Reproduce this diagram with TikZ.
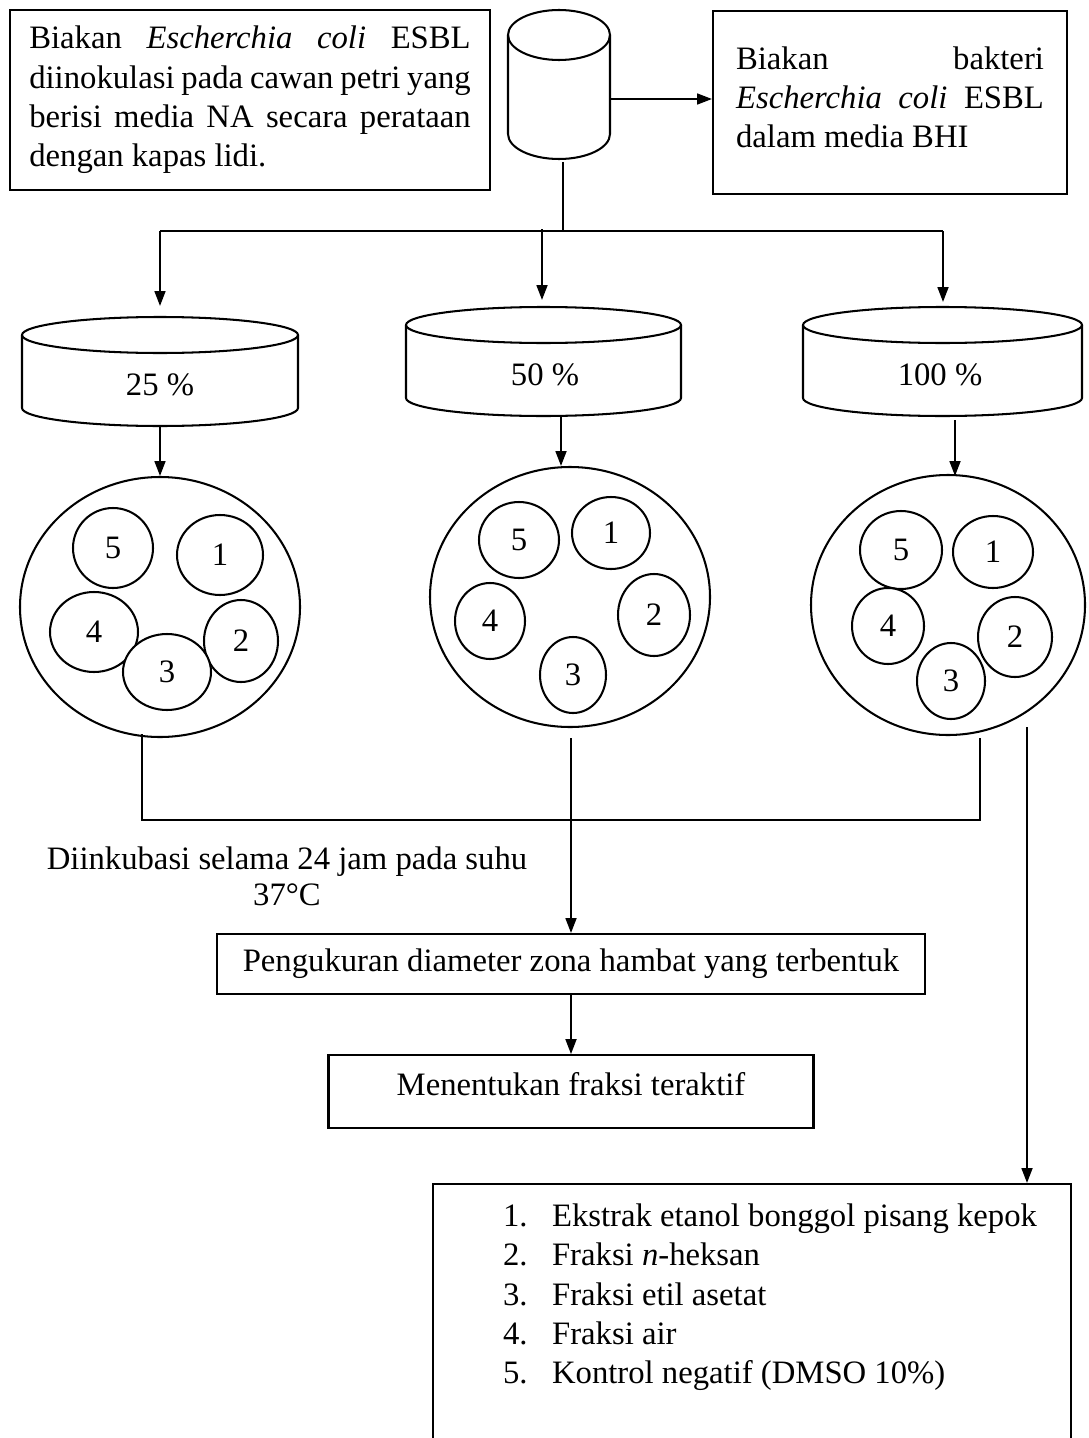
\documentclass[tikz,border=0pt]{standalone}
\usepackage{fontspec}
\setmainfont{Liberation Serif}
\usetikzlibrary{arrows.meta,positioning}
\hyphenpenalty=10000
\exhyphenpenalty=10000

\tikzset{
    kotak/.style={draw, line width=0.75pt},
    wadah/.style={line width=0.75pt},
    sumur/.style={line width=0.75pt, fill=white},
    garis/.style={line width=0.4pt},
    panah/.style={line width=0.75pt, -{Triangle[length=5.5pt,width=4pt]}},
}

\begin{document}
\begin{tikzpicture}[x=0.367pt, y=-0.367pt,
    every node/.style={font=\fontsize{12}{14.4}\selectfont, inner sep=0pt}]
    \useasboundingbox (0,0) rectangle (1088,1438);
    \clip (0,0) rectangle (1088,1438);

    % kotak atas
    \node[kotak, text width=162pt, inner xsep=7.1pt, minimum height=66.1pt, align=justify]
        (inokulasi) at (250,100) {Biakan \textit{Escherchia coli} ESBL\linebreak
        diinokulasi pada cawan petri yang\linebreak
        berisi media NA secara perataan\linebreak
        dengan kapas lidi.};
    \node[kotak, text width=113pt, inner xsep=8.45pt, inner ysep=13pt, align=justify, anchor=north]
        (bhi) at (890,10) {Biakan bakteri\linebreak
        \textit{Escherchia coli} ESBL\linebreak
        dalam media BHI\rule[-4pt]{0pt}{4pt}};

    % tabung biakan
    \draw[wadah] (559,35) ellipse [x radius=51, y radius=25];
    \draw[wadah] (508,35) -- (508,134) arc [start angle=180, end angle=0, x radius=51, y radius=25] -- (610,35);
    \coordinate (tabungkanan) at (610,99);
    \coordinate (tabungbawah) at (563,162);
    \coordinate (cabang) at (563,231);
    \coordinate (cabangkiri) at (160,231);
    \coordinate (cabangtengah) at (542,229);
    \coordinate (cabangkanan) at (943,231);

    \draw[panah] (tabungkanan) -- (tabungkanan -| bhi.west);
    \draw[garis] (tabungbawah) -- (cabang);
    \draw[garis] (cabangkiri) -- (cabangkanan);

    % konsentrasi
    \draw[wadah] (160,335) ellipse [x radius=138, y radius=18];
    \draw[wadah] (22,335) -- (22,408) arc [start angle=180, end angle=0, x radius=138, y radius=18] -- (298,335);
    \node (k25) at (160,385) {25 \%};
    \draw[wadah] (543.5,325) ellipse [x radius=137.5, y radius=18];
    \draw[wadah] (406,325) -- (406,398) arc [start angle=180, end angle=0, x radius=137.5, y radius=18] -- (681,325);
    \node (k50) at (545,375) {50 \%};
    \draw[wadah] (942.5,325) ellipse [x radius=139.5, y radius=18];
    \draw[wadah] (803,325) -- (803,398) arc [start angle=180, end angle=0, x radius=139.5, y radius=18] -- (1082,325);
    \node (k100) at (940,375) {100 \%};

    \coordinate (a25) at (160,306);
    \coordinate (a50) at (542,300);
    \coordinate (a100) at (943,302);
    \draw[panah] (cabangkiri) -- (a25);
    \draw[panah] (cabangtengah) -- (a50);
    \draw[panah] (cabangkanan) -- (a100);

    \coordinate (b25) at (160,426);
    \coordinate (b50) at (561,416);
    \coordinate (b100) at (955,420);
    \coordinate (c25) at (160,476);
    \coordinate (c50) at (561,466);
    \coordinate (c100) at (955,476);
    \draw[panah] (b25) -- (c25);
    \draw[panah] (b50) -- (c50);
    \draw[panah] (b100) -- (c100);

    % cawan petri 25 %
    \draw[wadah] (160,607) ellipse [x radius=140, y radius=130];
    \draw[sumur] (113,548) ellipse [x radius=40, y radius=40] node (p1s5) {5};
    \draw[sumur] (220,555) ellipse [x radius=43, y radius=40] node (p1s1) {1};
    \draw[sumur] (94,632) ellipse [x radius=44, y radius=40] node (p1s4) {4};
    \draw[sumur] (241,641) ellipse [x radius=37, y radius=41] node (p1s2) {2};
    \draw[sumur] (167,672) ellipse [x radius=44, y radius=38] node (p1s3) {3};

    % cawan petri 50 %
    \draw[wadah] (570,597) ellipse [x radius=140, y radius=130];
    \draw[sumur] (519,540) ellipse [x radius=40, y radius=38] node (p2s5) {5};
    \draw[sumur] (611,533) ellipse [x radius=39, y radius=36] node (p2s1) {1};
    \draw[sumur] (490,621) ellipse [x radius=35, y radius=38] node (p2s4) {4};
    \draw[sumur] (654,615) ellipse [x radius=36, y radius=41] node (p2s2) {2};
    \draw[sumur] (573,675) ellipse [x radius=33, y radius=38] node (p2s3) {3};

    % cawan petri 100 %
    \draw[wadah] (948,605) ellipse [x radius=137, y radius=130];
    \draw[sumur] (901,550) ellipse [x radius=41, y radius=39] node (p3s5) {5};
    \draw[sumur] (993,552) ellipse [x radius=40, y radius=36] node (p3s1) {1};
    \draw[sumur] (888,626) ellipse [x radius=36, y radius=38] node (p3s4) {4};
    \draw[sumur] (1015,637) ellipse [x radius=37, y radius=40] node (p3s2) {2};
    \draw[sumur] (951,681) ellipse [x radius=34, y radius=38] node (p3s3) {3};

    % inkubasi
    \coordinate (g1) at (142,734);
    \coordinate (g2) at (571,738);
    \coordinate (g3) at (980,738);
    \coordinate (gab1) at (142,820);
    \coordinate (gab2) at (571,820);
    \coordinate (gab3) at (980,820);
    \draw[garis] (g1) -- (gab1) -- (gab3) -- (g3);
    \draw[garis] (g2) -- (gab2);
    \node[anchor=north, align=center] (inkubasi) at (287,846)
        {Diinkubasi selama 24 jam pada suhu\\[-1.2pt]37°C};

    \node[kotak, minimum width=259.8pt, minimum height=22pt] (uji) at (571,964)
        {Pengukuran diameter zona hambat yang terbentuk};
    \node[kotak, minimum width=178pt, minimum height=26.8pt, text depth=5.5pt, below=21.7pt of uji] (teraktif)
        {Menentukan fraksi teraktif};
    \draw[panah] (gab2) -- (uji);
    \draw[panah] (uji) -- (teraktif);

    % keterangan sumur
    \node[kotak, anchor=north west, text width=234.1pt, inner xsep=0pt, inner ysep=7.3pt, align=flush left]
        (daftar) at (432,1183) {%
        \hspace*{25.7pt}\makebox[18pt][l]{1.}Ekstrak etanol bonggol pisang kepok\\
        \hspace*{25.7pt}\makebox[18pt][l]{2.}Fraksi \textit{n}-heksan\\
        \hspace*{25.7pt}\makebox[18pt][l]{3.}Fraksi etil asetat\\
        \hspace*{25.7pt}\makebox[18pt][l]{4.}Fraksi air\\
        \hspace*{25.7pt}\makebox[18pt][l]{5.}Kontrol negatif (DMSO 10\%)\rule[-150pt]{0pt}{150pt}};
    \coordinate (kanan) at (1027,727);
    \draw[panah] (kanan) -- (kanan |- daftar.north);
\end{tikzpicture}
\end{document}
